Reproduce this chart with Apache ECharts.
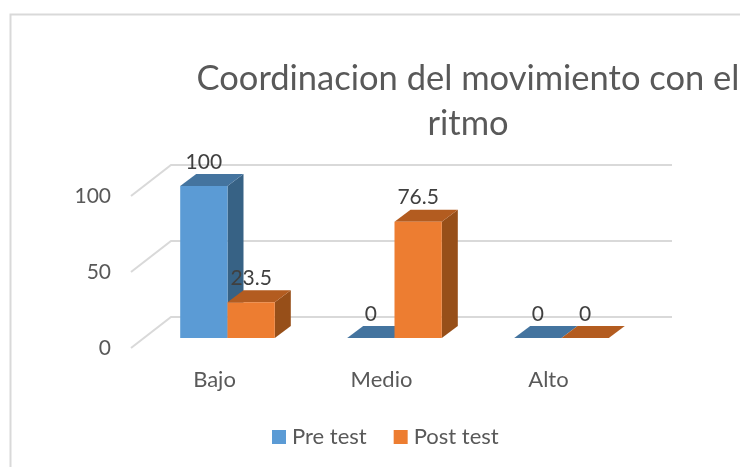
<!DOCTYPE html>
<html>
<head>
<meta charset="utf-8">
<style>
html, body { margin: 0; padding: 0; background: #fff; overflow: hidden; }
#chart { width: 740px; height: 467px; }
</style>
<script src="https://cdn.jsdelivr.net/npm/echarts@6/dist/echarts.min.js"></script>
</head>
<body>
<div id="chart"></div>
<script>
const categories = ['Bajo', 'Medio', 'Alto'];
const preTest = [100, 0, 0];
const postTest = [23.5, 76.5, 0];
const yTicks = [0, 50, 100];

const fontFamily = 'Lato, "Open Sans", sans-serif';
const gridColor = '#d9d9d9';
// pared del fondo y profundidad de las barras, en pixeles
const wallDx = 40, wallDy = -31;
const barOffX = 13, barOffY = -10;
const depthX = 16, depthY = -12;
const barW = 47.3;

function poly(points, color) {
    return { type: 'polygon', shape: { points }, style: { fill: color } };
}

function barRender(side, colors, labels) {
    return (params, api) => {
        const base = api.coord([api.value(0), 0]);
        const top = api.coord([api.value(0), api.value(1)]);
        const x0 = base[0] + barOffX + (side === 0 ? -barW : 0);
        const x1 = x0 + barW;
        const y0 = base[1] + barOffY;
        const y1 = top[1] + barOffY;
        return {
            type: 'group',
            children: [
                poly([[x1, y1], [x1 + depthX, y1 + depthY], [x1 + depthX, y0 + depthY], [x1, y0]], colors.side),
                poly([[x0, y1], [x0 + depthX, y1 + depthY], [x1 + depthX, y1 + depthY], [x1, y1]], colors.top),
                poly([[x0, y1], [x1, y1], [x1, y0], [x0, y0]], colors.front),
                {
                    type: 'text',
                    z2: 10,
                    style: {
                        text: String(labels[params.dataIndex]),
                        x: (x0 + x1) / 2,
                        y: y1 - 24,
                        textAlign: 'center',
                        textVerticalAlign: 'middle',
                        fill: '#404040',
                        font: '21px ' + fontFamily,
                    },
                },
            ],
        };
    };
}

const chart = echarts.init(document.getElementById('chart'));
chart.setOption({
    animation: false,
    backgroundColor: '#fff',
    title: {
        text: 'Coordinacion del movimiento con el\nritmo',
        left: 463,
        top: 51,
        textAlign: 'center',
        textStyle: {
            color: '#595959',
            fontFamily,
            fontWeight: 'normal',
            fontSize: 34.5,
            lineHeight: 45,
        },
    },
    legend: {
        left: 267,
        top: 421,
        itemWidth: 14,
        itemHeight: 14,
        itemGap: 27,
        icon: 'rect',
        data: ['Pre test', 'Post test'],
        textStyle: { color: '#595959', fontFamily, fontSize: 22, padding: [0, 0, 0, 1] },
    },
    grid: { left: 131, width: 501, top: 196, height: 152 },
    xAxis: {
        type: 'category',
        data: categories,
        axisLine: { show: false },
        axisTick: { show: false },
        axisLabel: { color: '#595959', fontFamily, fontSize: 22, margin: 21 },
    },
    yAxis: {
        type: 'value',
        min: 0,
        max: 100,
        interval: 50,
        axisLine: { show: false },
        axisTick: { show: false },
        splitLine: { show: false },
        axisLabel: { color: '#595959', fontFamily, fontSize: 21, margin: 20, padding: [4, 0, 0, 0] },
    },
    graphic: [
        {
            type: 'polyline',
            silent: true,
            shape: { points: [[10.5, 467], [10.5, 14.5], [740, 14.5]] },
            style: { stroke: gridColor, lineWidth: 2, fill: null },
        },
    ],
    series: [
        {
            type: 'custom',
            name: 'paredes',
            silent: true,
            z: 1,
            data: yTicks.map(v => [0, v]),
            encode: { x: 0, y: 1 },
            renderItem: (params, api) => {
                const p = api.coord([0, api.value(1)]);
                const band = api.size([1, 0])[0];
                const left = p[0] - band / 2;
                return {
                    type: 'polyline',
                    shape: {
                        points: [
                            [left, p[1]],
                            [left + wallDx, p[1] + wallDy],
                            [left + band * categories.length + wallDx, p[1] + wallDy],
                        ],
                    },
                    style: { stroke: gridColor, lineWidth: 2, fill: null },
                };
            },
        },
        {
            type: 'custom',
            name: 'Pre test',
            z: 2,
            itemStyle: { color: '#5b9bd5' },
            data: preTest.map((v, i) => [i, v]),
            encode: { x: 0, y: 1 },
            renderItem: barRender(0, { front: '#5b9bd5', top: '#44749f', side: '#376285' }, preTest),
        },
        {
            type: 'custom',
            name: 'Post test',
            z: 3,
            itemStyle: { color: '#ed7d31' },
            data: postTest.map((v, i) => [i, v]),
            encode: { x: 0, y: 1 },
            renderItem: barRender(1, { front: '#ed7d31', top: '#b35c20', side: '#974f19' }, postTest),
        },
    ],
});
</script>
</body>
</html>
